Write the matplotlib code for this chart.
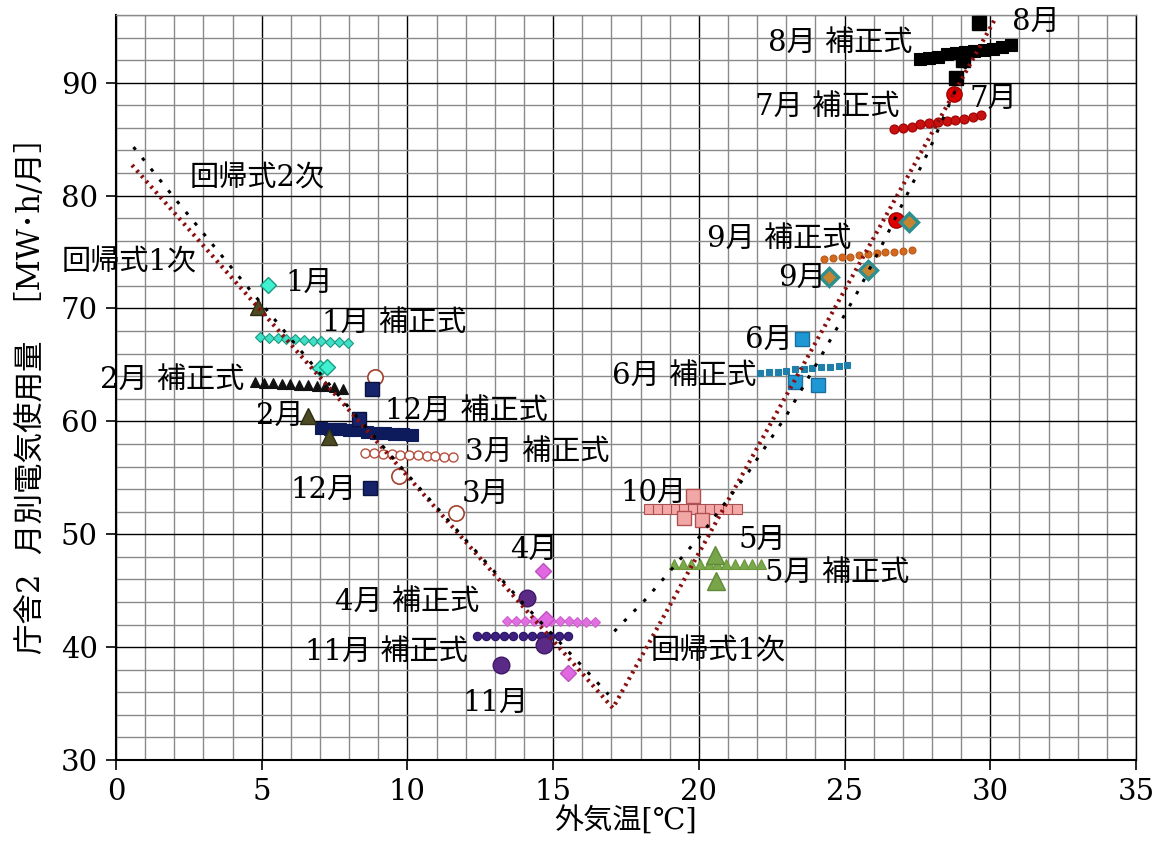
import matplotlib
matplotlib.use("Agg")
import matplotlib.pyplot as plt
from matplotlib.ticker import MultipleLocator

plt.rcParams['font.family'] = ['DejaVu Serif', 'Noto Sans CJK JP']
plt.rcParams['lines.scale_dashes'] = False

# monthly measurements (outdoor temp [C], usage [MWh/month])
jan_x = [5.2, 7.0, 7.25]
jan_y = [72.1, 64.7, 64.8]
feb_x = [4.88, 6.6, 7.3]
feb_y = [70.1, 60.5, 58.6]
mar_x = [8.9, 9.7, 11.65]
mar_y = [63.9, 55.2, 51.9]
apr_x = [14.65, 14.75, 15.5]
apr_y = [46.7, 42.5, 37.7]
may_x = [20.55, 20.6]
may_y = [48.2, 45.9]
jun_x = [23.55, 23.3, 24.1]
jun_y = [67.3, 63.5, 63.2]
jul_x = [28.76, 26.75]
jul_y = [89.0, 77.8]
aug_x = [29.6, 29.07, 28.83]
aug_y = [95.3, 92.0, 90.4]
sep_x = [27.2, 24.45, 25.8]
sep_y = [77.7, 72.8, 73.4]
oct_x = [19.8, 19.5, 20.1]
oct_y = [53.4, 51.4, 51.3]
nov_x = [14.1, 14.67, 13.2]
nov_y = [44.35, 40.2, 38.4]
dec_x = [8.8, 8.35, 8.73]
dec_y = [62.9, 60.2, 54.1]

# corrected-formula lines per month
jan_fix_x = [4.95, 5.25, 5.55, 5.85, 6.15, 6.45, 6.75, 7.05, 7.35, 7.65, 7.95]
jan_fix_y = [67.5, 67.4, 67.4, 67.3, 67.3, 67.2, 67.1, 67.1, 67.0, 67.0, 66.9]
feb_fix_x = [4.78, 5.08, 5.38, 5.68, 5.98, 6.28, 6.58, 6.88, 7.18, 7.48, 7.78]
feb_fix_y = [63.5, 63.4, 63.4, 63.3, 63.3, 63.2, 63.2, 63.1, 63.1, 63.0, 62.9]
mar_fix_x = [8.56, 8.86, 9.16, 9.46, 9.76, 10.06, 10.36, 10.66, 10.96, 11.26, 11.56]
mar_fix_y = [57.2, 57.2, 57.1, 57.1, 57.0, 57.0, 57.0, 56.9, 56.9, 56.8, 56.8]
apr_fix_x = [13.43, 13.73, 14.03, 14.33, 14.63, 14.93, 15.23, 15.53, 15.83, 16.13, 16.43]
apr_fix_y = [42.3, 42.3, 42.3, 42.3, 42.3, 42.3, 42.3, 42.3, 42.2, 42.2, 42.2]
may_fix_x = [19.14, 19.44, 19.74, 20.04, 20.34, 20.64, 20.94, 21.24, 21.54, 21.84, 22.14]
may_fix_y = [47.35, 47.35, 47.35, 47.35, 47.35, 47.35, 47.35, 47.35, 47.35, 47.35, 47.35]
jun_fix_x = [22.1, 22.4, 22.7, 23.0, 23.3, 23.6, 23.9, 24.2, 24.5, 24.8, 25.1]
jun_fix_y = [64.3, 64.4, 64.4, 64.5, 64.6, 64.6, 64.7, 64.8, 64.8, 64.9, 65.0]
jul_fix_x = [26.7, 27.0, 27.3, 27.6, 27.9, 28.2, 28.5, 28.8, 29.1, 29.4, 29.7]
jul_fix_y = [85.9, 86.0, 86.1, 86.3, 86.4, 86.5, 86.6, 86.7, 86.8, 87.0, 87.1]
aug_fix_x = [27.6, 27.91, 28.22, 28.53, 28.84, 29.15, 29.46, 29.77, 30.08, 30.39, 30.7]
aug_fix_y = [92.1, 92.2, 92.3, 92.5, 92.6, 92.7, 92.8, 92.9, 93.0, 93.2, 93.3]
sep_fix_x = [24.3, 24.6, 24.9, 25.2, 25.5, 25.8, 26.1, 26.4, 26.7, 27.0, 27.3]
sep_fix_y = [74.4, 74.5, 74.6, 74.6, 74.7, 74.8, 74.9, 75.0, 75.0, 75.1, 75.2]
oct_fix_x = [18.3, 18.6, 18.9, 19.2, 19.5, 19.8, 20.1, 20.4, 20.7, 21.0, 21.3]
oct_fix_y = [52.2, 52.2, 52.2, 52.2, 52.2, 52.2, 52.2, 52.2, 52.2, 52.2, 52.2]
nov_fix_x = [12.4, 12.71, 13.02, 13.33, 13.64, 13.95, 14.26, 14.57, 14.88, 15.19, 15.5]
nov_fix_y = [41.0, 41.0, 41.0, 41.0, 41.0, 41.0, 41.0, 41.0, 41.0, 41.0, 41.0]
dec_fix_x = [7.05, 7.36, 7.67, 7.98, 8.29, 8.6, 8.91, 9.22, 9.53, 9.84, 10.15]
dec_fix_y = [59.4, 59.3, 59.3, 59.2, 59.2, 59.1, 59.0, 59.0, 58.9, 58.9, 58.8]

# regression lines
reg1_x = [0.55, 17.05, 30.2]
reg1_y = [82.7, 34.6, 95.8]
reg2_left_x = [0.6, 2.0, 4.0, 6.0, 8.0, 10.0, 12.0, 14.0, 16.0, 16.9]
reg2_left_y = [84.3, 79.8, 73.5, 67.3, 61.2, 55.3, 49.5, 43.8, 38.3, 35.8]
reg2_right_x = [17.1, 18.2, 20.0, 21.7, 23.0, 24.2, 25.5, 26.3, 27.9, 29.5]
reg2_right_y = [41.4, 44.3, 49.7, 55.5, 60.5, 65.8, 71.7, 75.7, 84.0, 93.4]

fig = plt.figure(figsize=(11.59, 8.41), dpi=100)
ax = fig.add_axes([0.1001, 0.0963, 0.8800, 0.8859])

ax.set_xlim(0, 35)
ax.set_ylim(30, 96)
ax.xaxis.set_major_locator(MultipleLocator(5))
ax.xaxis.set_minor_locator(MultipleLocator(1))
ax.yaxis.set_major_locator(MultipleLocator(10))
ax.yaxis.set_minor_locator(MultipleLocator(2))
ax.grid(which='minor', color='#8a8a8a', lw=1.0)
ax.grid(which='major', color='black', lw=1.0)
ax.set_axisbelow(True)
ax.tick_params(which='minor', length=0)
ax.tick_params(which='major', direction='out', length=7, width=1.2,
               labelsize=21, pad=6)
for side in ['left', 'bottom']:
    ax.spines[side].set_linewidth(1.5)
ax.spines['right'].set_linewidth(1.0)
ax.spines['top'].set_color('#8a8a8a')
ax.spines['top'].set_linewidth(1.0)

ax.set_xlabel('外気温[℃]', fontsize=21, labelpad=0)
ax.set_ylabel('庁舎2  月別電気使用量  ［MW･h/月］', fontsize=22, labelpad=10)


def fix_line(x, y, marker, ms, face, edge, mew=0.8):
    ax.plot(x, y, ls='none', marker=marker, ms=ms, mfc=face, mec=edge, mew=mew, zorder=4)


def points(x, y, marker, ms, face, edge, mew=1.0):
    ax.plot(x, y, ls='none', marker=marker, ms=ms, mfc=face, mec=edge, mew=mew, zorder=5)


fix_line(jan_fix_x, jan_fix_y, 'D', 5.5, '#40e0c8', '#1a9a80')
fix_line(feb_fix_x, feb_fix_y, '^', 6.5, '#111111', '#111111')
fix_line(mar_fix_x, mar_fix_y, 'o', 6.5, 'white', '#b5503c', mew=1.0)
fix_line(apr_fix_x, apr_fix_y, 'D', 5, '#e070e0', '#d060d0')
fix_line(may_fix_x, may_fix_y, '^', 6.5, '#7aa84a', '#6a983a')
fix_line(jun_fix_x, jun_fix_y, 's', 3.8, '#1f7fa8', '#1f7fa8')
fix_line(jul_fix_x, jul_fix_y, 'o', 6.5, '#c81010', '#a00000')
fix_line(aug_fix_x, aug_fix_y, 's', 9, 'black', 'black')
fix_line(sep_fix_x, sep_fix_y, 'o', 5, '#d2691e', '#b85a18')
fix_line(oct_fix_x, oct_fix_y, 's', 7.2, '#f4a8a8', '#a85050')
fix_line(nov_fix_x, nov_fix_y, 'o', 6, '#3c1f80', '#2a1460')
fix_line(dec_fix_x, dec_fix_y, 's', 8.5, '#0d1a5c', '#0d1a5c')

points(jan_x, jan_y, 'D', 8.5, '#40f0d0', '#1a9a80')
points(feb_x, feb_y, '^', 11, '#4b4a23', '#2e2d14')
points(mar_x, mar_y, 'o', 11, 'white', '#a0412d', mew=1.2)
points(apr_x, apr_y, 'D', 8.5, '#e068e0', '#c050c0')
points(may_x, may_y, '^', 13, '#78a44a', '#5f8a38')
points(jun_x, jun_y, 's', 10.5, '#1e98d4', '#1a6e9e')
points(jul_x, jul_y, 'o', 11, '#e00000', '#a00000')
points(aug_x, aug_y, 's', 10, 'black', 'black')
points(sep_x, sep_y, 'D', 9, '#c8832e', '#2f8f8f', mew=2.5)
points(oct_x, oct_y, 's', 10.5, '#f2a7a7', '#b05050')
points(nov_x, nov_y, 'o', 12, '#5b2a86', '#3e1a66')
points(dec_x, dec_y, 's', 10, '#16236b', '#0a1240')

ax.plot(reg1_x, reg1_y, color='#8b0f0f', lw=3, dashes=(1.8, 3.3), zorder=6)
ax.plot(reg2_left_x, reg2_left_y, color='black', lw=2.2, dashes=(2.5, 7.5), zorder=6)
ax.plot(reg2_right_x, reg2_right_y, color='black', lw=2.2, dashes=(2.5, 7.5), zorder=6)

labels = [
    (30.75, 95.4, '8月'),
    (22.37, 93.5, '8月 補正式'),
    (21.93, 87.9, '7月 補正式'),
    (29.3, 88.6, '7月'),
    (20.28, 76.2, '9月 補正式'),
    (22.72, 72.7, '9月'),
    (21.59, 67.2, '6月'),
    (17.02, 64.0, '6月 補正式'),
    (17.3, 53.7, '10月'),
    (21.35, 49.5, '5月'),
    (22.27, 46.6, '5月 補正式'),
    (18.33, 39.6, '回帰式1次'),
    (11.9, 35.1, '11月'),
    (6.49, 39.6, '11月 補正式'),
    (7.52, 44.0, '4月 補正式'),
    (13.52, 48.6, '4月'),
    (11.87, 53.6, '3月'),
    (5.97, 53.9, '12月'),
    (11.98, 57.3, '3月 補正式'),
    (9.23, 60.9, '12月 補正式'),
    (4.8, 60.5, '2月'),
    (-0.55, 63.7, '2月 補正式'),
    (7.07, 68.7, '1月 補正式'),
    (5.8, 72.25, '1月'),
    (-1.85, 74.1, '回帰式1次'),
    (2.54, 81.55, '回帰式2次'),
]
for x, y, s in labels:
    ax.text(x, y, s, fontsize=21, ha='left', va='center', zorder=7)

fig.savefig('out.png', dpi=100)
